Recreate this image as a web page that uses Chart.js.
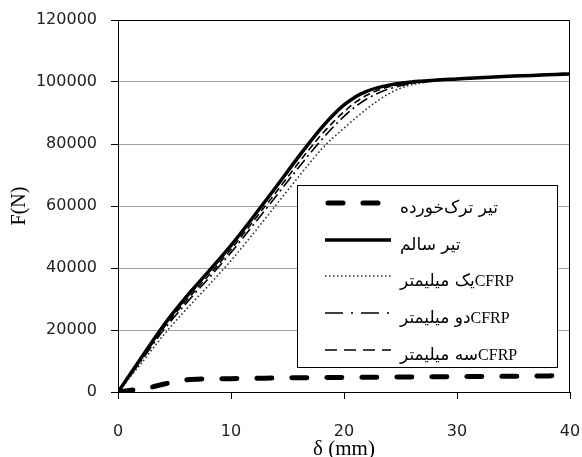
<!DOCTYPE html>
<html><head><meta charset="utf-8">
<script src="https://cdn.jsdelivr.net/npm/chart.js@4/dist/chart.umd.min.js"></script>
<style>html,body{margin:0;padding:0;background:#fff}canvas{display:block}</style>
</head><body>
<canvas id="c" width="582" height="457"></canvas>
<script>
// ---- data ----
const deflection = [0,2,4,6,8,10,12,14,16,17,18,19,20,21,22,23,24,25,26,27,28,30,32,35,38,40];
const healthyBeam = [0,10700,21300,30500,38800,47300,56600,66200,76000,80700,85200,89200,92600,95200,97000,98200,99000,99600,100000,100300,100600,101000,101400,101900,102300,102600];
const cfrp1mm = [0,9000,18200,26500,34300,42400,51200,60400,69500,74000,78300,81900,85100,88300,91300,94000,96300,98000,99100,99800,100300,100900,101300,101800,102200,102500];
const cfrp2mm = [0,9800,19800,28500,36600,45000,54000,63200,72500,77000,81300,85300,88900,92000,94500,96400,97800,98800,99500,100000,100400,100900,101300,101900,102400,102700];
const cfrp3mm = [0,10200,20500,29300,37500,46000,55200,64500,74000,78600,83000,86900,90400,93400,95700,97300,98500,99200,99700,100100,100500,101000,101400,102000,102500,102900];
const crackedDeflection = [0,1,2,3,4,5,6,7,8,10,12,14,16,20,24,28,32,36,40];
const crackedBeam = [0,500,1000,1600,2500,3300,3900,4150,4250,4300,4400,4500,4600,4700,4800,4900,5000,5100,5300];
const xTicks = [0,10,20,30,40];
const yTicks = [0,20000,40000,60000,80000,100000,120000];
const seriesNames = ['تیر ترک‌خورده','تیر سالم','یک میلیمتر','دو میلیمتر','سه میلیمتر'];
const seriesPrefix = ['','','CFRP','CFRP','CFRP'];

const pairs = (xs, ys) => xs.map((x, i) => ({x, y: ys[i]}));

const frame = {
  id: 'frame',
  beforeDatasetsDraw(chart) {
    const {ctx, chartArea: a} = chart;
    ctx.save();
    ctx.strokeStyle = '#000';
    ctx.lineWidth = 1;
    ctx.beginPath();
    const t = Math.round(a.top) + 0.5, r = Math.round(a.right) - 0.5;
    ctx.moveTo(a.left, t); ctx.lineTo(r, t); ctx.lineTo(r, a.bottom);
    ctx.stroke();
    ctx.restore();
  }
};

const legendBox = {
  id: 'legendBox',
  afterDatasetsDraw(chart) {
    const {ctx} = chart;
    const box = {l: 297.5, t: 185.5, r: 557.5, b: 367.5};
    ctx.save();
    ctx.fillStyle = '#fff';
    ctx.fillRect(box.l, box.t, box.r - box.l, box.b - box.t);
    ctx.strokeStyle = '#000';
    ctx.lineWidth = 1;
    ctx.setLineDash([]);
    ctx.strokeRect(box.l, box.t, box.r - box.l, box.b - box.t);
    const rowY = [203, 240, 276, 313, 350];
    chart.data.datasets.forEach((ds, i) => {
      const y = rowY[i];
      ctx.save();
      ctx.strokeStyle = ds.borderColor;
      ctx.lineWidth = ds.borderWidth;
      ctx.lineCap = ds.borderCapStyle || 'butt';
      ctx.setLineDash(ds.legendDash || ds.borderDash || []);
      ctx.beginPath();
      ctx.moveTo(ds.borderCapStyle === 'round' ? 328 : 325, y);
      ctx.lineTo(ds.borderCapStyle === 'round' ? 388 : 391, y);
      ctx.stroke();
      ctx.restore();
      ctx.fillStyle = '#000';
      ctx.textBaseline = 'alphabetic';
      ctx.font = '17px "DejaVu Sans", sans-serif';
      ctx.direction = 'rtl';
      ctx.textAlign = 'left';
      ctx.fillText(ds.label, 400, y + 10);
      const w = ctx.measureText(ds.label).width;
      const pre = seriesPrefix[i];
      if (pre) {
        ctx.direction = 'ltr';
        ctx.font = '16px "Liberation Serif", serif';
        ctx.fillText(pre, 400 + w, y + 10);
      }
    });
    ctx.restore();
  }
};

new Chart(document.getElementById('c'), {
  type: 'line',
  data: {
    datasets: [
      {label: seriesNames[0], data: pairs(crackedDeflection, crackedBeam), borderColor: '#000', borderWidth: 5, borderDash: [15, 20], borderCapStyle: 'round'},
      {label: seriesNames[1], data: pairs(deflection, healthyBeam), borderColor: '#000', borderWidth: 3.5},
      {label: seriesNames[2], data: pairs(deflection, cfrp1mm), borderColor: '#333', borderWidth: 1.6, borderDash: [1.6, 2.4]},
      {label: seriesNames[3], data: pairs(deflection, cfrp2mm), borderColor: '#000', borderWidth: 1.6, borderDash: [12, 4, 2, 4], legendDash: [18, 8, 2, 8]},
      {label: seriesNames[4], data: pairs(deflection, cfrp3mm), borderColor: '#000', borderWidth: 1.6, borderDash: [7, 4], legendDash: [12, 7]}
    ]
  },
  options: {
    responsive: false,
    animation: false,
    layout: {padding: {top: 20, right: 12, left: 0, bottom: 0}},
    plugins: {legend: {display: false}, tooltip: {enabled: false}},
    elements: {point: {radius: 0}, line: {cubicInterpolationMode: 'monotone', fill: false}},
    scales: {
      x: {
        type: 'linear', min: 0, max: 40,
        afterBuildTicks(s) { s.ticks = xTicks.map(v => ({value: v})); },
        ticks: {font: {family: 'DejaVu Sans', size: 16}, color: '#222', padding: 23, maxRotation: 0},
        grid: {drawOnChartArea: false, drawTicks: true, tickLength: 7, tickColor: '#000'},
        border: {color: '#000', width: 1},
        title: {display: true, text: 'δ (mm)', font: {family: 'Liberation Serif', size: 21, lineHeight: 1}, color: '#000', padding: {top: 0, bottom: -3}},
        afterFit(s) { s.height = 65; s.paddingLeft = 0; s.paddingRight = 0; }
      },
      y: {
        type: 'linear', min: 0, max: 120000,
        afterBuildTicks(s) { s.ticks = yTicks.map(v => ({value: v})); },
        ticks: {font: {family: 'DejaVu Sans', size: 16}, color: '#222', padding: 14, callback: v => String(v)},
        grid: {color: '#a0a0a0', lineWidth: 1, tickColor: '#000', tickLength: 7},
        border: {color: '#000', width: 1},
        title: {display: true, text: 'F(N)', font: {family: 'Liberation Serif', size: 20, lineHeight: 1}, color: '#000', padding: {top: 10, bottom: 0}},
        afterFit(s) { s.width = 118; s.paddingTop = 0; s.paddingBottom = 0; }
      }
    }
  },
  plugins: [frame, legendBox]
});
</script>
</body></html>
